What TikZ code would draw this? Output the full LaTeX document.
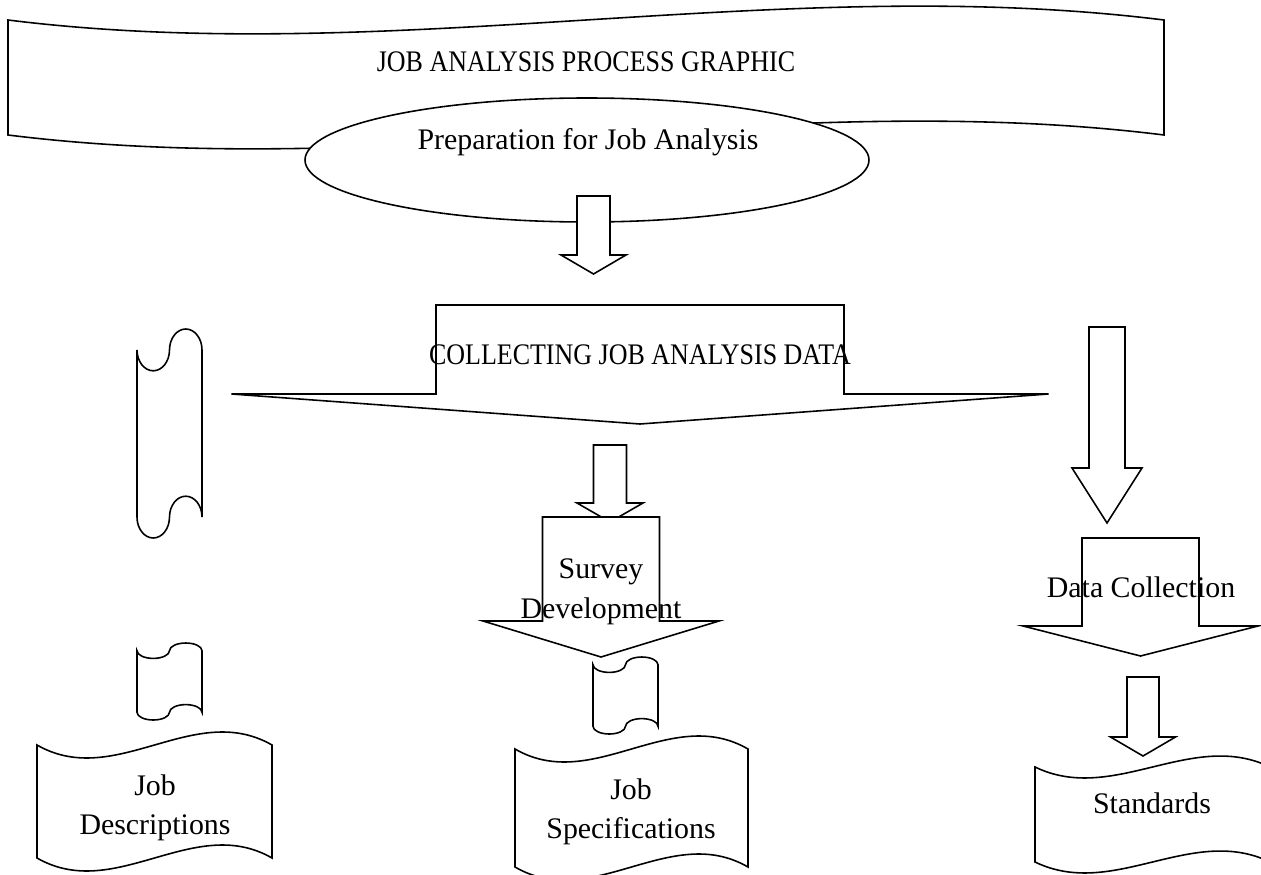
\documentclass[tikz,border=0pt]{standalone}
\usepackage{fontspec}
\setmainfont{Liberation Serif}
\newfontfamily\capsfont[FakeStretch=0.87]{Liberation Serif}
\usetikzlibrary{calc}

\tikzset{
	outline/.style={draw=black, line width=0.9pt, fill=white, line join=miter},
	lbl/.style={font=\fontsize{17}{22}\selectfont, inner sep=0pt},
	caps lbl/.style={lbl, font=\capsfont\fontsize{17}{22}\selectfont}
}

% down block arrow: centre x, shaft half width, top, shoulder, head half width, tip
\newcommand{\blockarrow}[6]{\draw[outline] ({#1-#2},#3) -- ({#1+#2},#3) -- ({#1+#2},#4) -- ({#1+#5},#4) -- (#1,#6) -- ({#1-#5},#4) -- ({#1-#2},#4) -- cycle;}

% wave banner: left, right, top line, bottom line, bend
\newcommand{\wave}[5]{\draw[outline] (#1,#3) .. controls ({#1+(#2-#1)/3},{#3+#5}) and ({#1+2*(#2-#1)/3},{#3-#5}) .. (#2,#3) -- (#2,#4) .. controls ({#1+2*(#2-#1)/3},{#4-#5}) and ({#1+(#2-#1)/3},{#4+#5}) .. (#1,#4) -- cycle;}

% punched tape: left, right, top, bottom
\newcommand{\tape}[4]{%
	\pgfmathsetmacro{\tpA}{0.1*(#4-#3)}%
	\pgfmathsetmacro{\tpQ}{0.25*(#2-#1)}%
	\pgfmathsetmacro{\tpT}{#3+\tpA}%
	\pgfmathsetmacro{\tpB}{#4-\tpA}%
	\draw[outline] (#1,\tpT)
	.. controls (#1,{\tpT+0.55*\tpA}) and ({#1+0.45*\tpQ},{\tpT+\tpA}) .. ({#1+\tpQ},{\tpT+\tpA})
	.. controls ({#1+1.55*\tpQ},{\tpT+\tpA}) and ({#1+2*\tpQ},{\tpT+0.55*\tpA}) .. ({#1+2*\tpQ},\tpT)
	.. controls ({#1+2*\tpQ},{\tpT-0.55*\tpA}) and ({#1+2.45*\tpQ},{\tpT-\tpA}) .. ({#1+3*\tpQ},{\tpT-\tpA})
	.. controls ({#1+3.55*\tpQ},{\tpT-\tpA}) and (#2,{\tpT-0.55*\tpA}) .. (#2,\tpT)
	-- (#2,\tpB)
	.. controls (#2,{\tpB-0.55*\tpA}) and ({#1+3.55*\tpQ},{\tpB-\tpA}) .. ({#1+3*\tpQ},{\tpB-\tpA})
	.. controls ({#1+2.45*\tpQ},{\tpB-\tpA}) and ({#1+2*\tpQ},{\tpB-0.55*\tpA}) .. ({#1+2*\tpQ},\tpB)
	.. controls ({#1+2*\tpQ},{\tpB+0.55*\tpA}) and ({#1+1.55*\tpQ},{\tpB+\tpA}) .. ({#1+\tpQ},{\tpB+\tpA})
	.. controls ({#1+0.45*\tpQ},{\tpB+\tpA}) and (#1,{\tpB+0.55*\tpA}) .. (#1,\tpB)
	-- cycle;}

\begin{document}
\begin{tikzpicture}[x=0.02cm, y=-0.02cm]
	%%%%% START %%%%%
	\useasboundingbox (0,0) rectangle (1261,875);
	
	% title banner and ellipse
	\wave{8}{1164}{20}{135}{48}
	\node[caps lbl, anchor=base] (title) at (586,72) {JOB ANALYSIS PROCESS GRAPHIC};
	
	\draw[outline] (587,160) ellipse [x radius=282, y radius=62];
	\node[lbl, anchor=base] (prep) at (588,150) {Preparation for Job Analysis};
	\blockarrow{593.5}{16.5}{196}{255}{32.5}{274}
	
	\blockarrow{640}{204}{305}{394}{408.5}{424}
	\node[caps lbl, anchor=base] (collect) at (640,364) {COLLECTING JOB ANALYSIS DATA};
	
	% left column
	\tape{137}{202}{329}{538}
	\tape{137}{202}{643}{720}
	\wave{37}{272}{745}{858}{45}
	\node[lbl, align=center] (jobdesc) at (155,808) {Job\\Descriptions};
	
	% middle column
	\blockarrow{610}{16.5}{445}{503}{33}{522}
	\blockarrow{601}{58.5}{517}{621}{118}{657}
	\node[lbl, align=center, font=\fontsize{17}{23}\selectfont] (survey) at (601,592) {Survey\\Development};
	\tape{593}{658}{657}{734}
	\wave{515}{748}{749}{867}{45}
	\node[lbl, align=center] (jobspec) at (631,812) {Job\\Specifications};
	
	% right column
	\blockarrow{1107}{18}{327}{468}{35}{523}
	\blockarrow{1140.5}{58.5}{538}{626}{117.5}{656}
	\node[lbl, anchor=base] (datacoll) at (1141,597) {Data Collection};
	\blockarrow{1143}{16}{677}{737}{32.5}{756}
	\wave{1035}{1270}{767}{862}{38}
	\node[lbl, anchor=base] (standards) at (1152,813) {Standards};
	
	%%%%% END %%%%%
\end{tikzpicture}
\end{document}
